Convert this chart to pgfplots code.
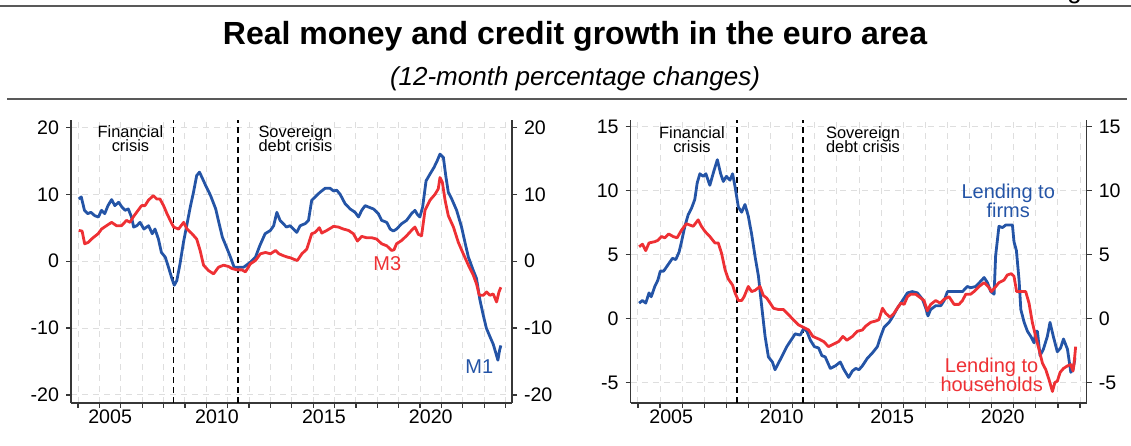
\documentclass[border=0pt]{standalone}
\usepackage{pgfplots}
\pgfplotsset{compat=1.18}
\usepackage{fontspec}
\setmainfont{Liberation Sans}
\definecolor{ecbblue}{RGB}{36,84,166}
\definecolor{ecbred}{RGB}{238,48,52}
\definecolor{axisgray}{RGB}{55,55,55}
\pgfplotsset{
  panelbase/.style={
    scale only axis, height=141.5pt,
    xmin=2003.67, xmax=2024.3,
    axis line style={axisgray, line width=0.6pt},
    tick style={axisgray, line width=0.6pt},
    tick align=outside, major tick length=2.5pt,
    ticklabel style={font=\fontsize{9.8}{11}\selectfont, text=black},
    /pgf/number format/assume math mode=true,
    clip=false,
  },
  panel/.style={
    panelbase,
    axis x line*=bottom, axis y line*=left,
    xtick={2004,...,2024}, xticklabels={},
    extra x ticks={2005.5,2010.5,2015.5,2020.5},
    extra x tick labels={2005,2010,2015,2020},
    extra x tick style={major tick length=0pt, grid=none},
    grid=major, grid style={black!13, line width=0.5pt, dash pattern=on 3pt off 2.5pt},
  },
  rightlab/.style={
    panelbase,
    axis x line=none, axis y line*=right,
  },
  crisis/.style={black, line width=0.85pt, dash pattern=on 3pt off 2pt},
  series/.style={line width=1.4pt, line join=round},
}
\newcommand{\annfont}{\fontsize{8.2}{6.9}\selectfont\lineskiplimit=-10pt}
\newcommand{\labfont}{\fontsize{10}{9.4}\selectfont\lineskiplimit=-10pt}
\begin{document}
\begin{tikzpicture}
\useasboundingbox (0,0) rectangle (565.5pt,222.5pt);
% header
\draw[line width=0.7pt, black!65] (0,219.5pt) -- (565.5pt,219.5pt);
\node[font=\fontsize{13}{15}\selectfont, anchor=base, inner sep=0pt] at (537.3pt,223.2pt) {g};
\node[font=\fontsize{16}{19}\selectfont\bfseries, anchor=base, inner sep=0pt] at (287.5pt,200pt) {Real money and credit growth in the euro area};
\node[font=\fontsize{13}{15}\selectfont\itshape, anchor=base, inner sep=0pt] at (287.5pt,179.5pt) {(12-month percentage changes)};
\draw[line width=0.7pt, black!65] (3.5pt,173pt) -- (563.5pt,173pt);

% ---------------- left panel ----------------
\begin{axis}[panel, width=220.5pt, at={(35.5pt,21pt)}, anchor=south west,
  ymin=-21.2, ymax=21.1, ytick={-20,-10,0,10,20}]
\addplot[crisis] coordinates {(2008.47,-21.2) (2008.47,21.1)};
\addplot[crisis] coordinates {(2011.47,-21.2) (2011.47,21.1)};
% M1
\addplot[series, ecbblue] coordinates {
(2004.03,9.3)(2004.15,9.6)(2004.3,7.6)(2004.45,7.1)(2004.6,7.3)(2004.78,6.8)(2004.95,6.6)(2005.1,7.6)(2005.25,7.1)(2005.4,8.3)(2005.57,9.2)(2005.72,8.3)(2005.9,8.8)(2006.05,8.1)(2006.2,7.6)(2006.35,7.8)(2006.5,6.6)(2006.6,5.1)(2006.75,5.3)(2006.9,5.8)(2007.08,4.8)(2007.3,5.3)(2007.47,4.1)(2007.6,4.8)(2007.76,3.3)(2007.9,1.3)(2008.08,0.6)(2008.23,-0.9)(2008.39,-2.6)(2008.5,-3.6)(2008.62,-2.9)(2008.77,-0.4)(2008.93,2.8)(2009.1,5.6)(2009.25,8.1)(2009.4,10.3)(2009.55,12.8)(2009.68,13.3)(2009.8,12.5)(2009.97,11.3)(2010.2,9.8)(2010.44,7.8)(2010.6,5.6)(2010.75,3.6)(2010.98,1.8)(2011.13,0.6)(2011.3,-0.9)(2011.5,-0.9)(2011.75,-0.9)(2012.08,-0.1)(2012.3,0.6)(2012.5,2.3)(2012.75,4.1)(2013.0,4.6)(2013.15,5.3)(2013.3,7.3)(2013.45,6.1)(2013.6,5.6)(2013.75,5.1)(2013.92,5.3)(2014.08,4.8)(2014.23,4.3)(2014.39,5.3)(2014.62,5.6)(2014.78,6.1)(2014.93,9.1)(2015.09,9.6)(2015.32,10.3)(2015.56,10.9)(2015.79,10.9)(2015.95,10.5)(2016.1,10.6)(2016.26,10.0)(2016.49,8.6)(2016.73,7.8)(2016.96,7.3)(2017.12,6.6)(2017.27,7.6)(2017.43,8.3)(2017.58,8.1)(2017.82,7.8)(2018.05,7.1)(2018.2,6.1)(2018.44,5.8)(2018.6,4.8)(2018.75,4.5)(2018.9,4.8)(2019.14,5.6)(2019.37,6.1)(2019.6,7.1)(2019.76,7.6)(2019.87,7.0)(2019.99,6.6)(2020.12,8.1)(2020.28,12.0)(2020.46,13.0)(2020.65,14.0)(2020.8,15.0)(2020.93,16.0)(2021.09,15.5)(2021.2,12.8)(2021.32,10.3)(2021.48,9.3)(2021.71,7.6)(2021.94,5.1)(2022.1,2.8)(2022.26,0.6)(2022.49,-1.4)(2022.64,-2.6)(2022.8,-5.8)(2022.95,-8.0)(2023.1,-10.0)(2023.27,-11.3)(2023.42,-12.4)(2023.55,-13.8)(2023.64,-14.8)(2023.72,-13.3)(2023.78,-12.6)
};
% M3
\addplot[series, ecbred] coordinates {
(2004.03,4.6)(2004.19,4.5)(2004.31,2.6)(2004.47,2.8)(2004.63,3.3)(2004.78,3.7)(2004.94,4.1)(2005.1,4.8)(2005.33,5.3)(2005.57,5.8)(2005.8,5.3)(2006.03,5.3)(2006.27,6.1)(2006.43,5.8)(2006.58,6.6)(2006.74,7.3)(2006.97,8.3)(2007.13,8.3)(2007.29,9.1)(2007.52,9.8)(2007.68,9.3)(2007.83,9.3)(2008.0,8.3)(2008.16,7.1)(2008.31,6.1)(2008.47,5.1)(2008.7,4.8)(2008.94,5.8)(2009.1,4.8)(2009.33,4.1)(2009.55,3.3)(2009.71,1.6)(2009.87,-0.6)(2010.1,-1.4)(2010.34,-1.9)(2010.57,-0.9)(2010.81,-0.6)(2011.04,-0.8)(2011.2,-1.1)(2011.43,-1.3)(2011.67,-1.3)(2011.83,-1.6)(2012.06,-0.4)(2012.3,0.1)(2012.53,1.1)(2012.77,1.3)(2013.0,1.1)(2013.24,1.6)(2013.4,1.1)(2013.62,0.8)(2013.8,0.6)(2013.94,0.5)(2014.08,0.3)(2014.26,0.1)(2014.47,1.1)(2014.7,1.8)(2014.93,4.1)(2015.09,4.3)(2015.29,5.0)(2015.4,4.2)(2015.64,4.6)(2015.95,5.2)(2016.18,5.1)(2016.41,4.8)(2016.65,4.6)(2016.88,4.1)(2017.07,3.0)(2017.27,3.7)(2017.5,3.5)(2017.74,3.5)(2017.97,3.3)(2018.2,2.6)(2018.44,2.3)(2018.67,1.6)(2018.78,1.7)(2018.9,2.6)(2019.14,3.1)(2019.37,3.8)(2019.6,4.6)(2019.76,5.1)(2019.92,4.0)(2020.07,3.8)(2020.23,7.6)(2020.46,9.1)(2020.7,10.0)(2020.85,10.8)(2020.93,12.5)(2021.04,11.8)(2021.17,9.1)(2021.32,6.8)(2021.56,5.1)(2021.79,2.8)(2022.02,1.1)(2022.26,-0.6)(2022.49,-2.1)(2022.64,-3.4)(2022.77,-5.1)(2022.96,-5.1)(2023.11,-4.6)(2023.27,-5.1)(2023.42,-4.9)(2023.58,-6.1)(2023.69,-4.6)(2023.78,-3.9)
};
\node[font=\annfont, align=center, anchor=north, inner sep=0pt] at (2006.45,20.3) {Financial\\crisis};
\node[font=\annfont, align=center, anchor=north, inner sep=0pt] at (2014.17,20.3) {Sovereign\\debt crisis};
\node[font=\labfont, text=ecbred, inner sep=0pt] at (2018.47,-0.3) {M3};
\node[font=\labfont, text=ecbblue, inner sep=0pt] at (2022.77,-15.8) {M1};
\end{axis}
\begin{axis}[rightlab, width=220.5pt, at={(35.5pt,21pt)}, anchor=south west,
  ymin=-21.2, ymax=21.1, ytick={-20,-10,0,10,20}]
\end{axis}

% ---------------- right panel ----------------
\begin{axis}[panel, width=228pt, at={(315.35pt,21pt)}, anchor=south west,
  ymin=-6.6, ymax=15.5, ytick={-5,0,5,10,15}]
\addplot[crisis] coordinates {(2008.47,-6.6) (2008.47,15.5)};
\addplot[crisis] coordinates {(2011.47,-6.6) (2011.47,15.5)};
% lending to firms
\addplot[series, ecbblue] coordinates {
(2004.05,1.2)(2004.2,1.4)(2004.35,1.2)(2004.5,2.0)(2004.6,1.7)(2004.76,2.5)(2004.9,3.0)(2005.01,3.7)(2005.16,3.7)(2005.36,4.2)(2005.56,4.7)(2005.71,4.6)(2005.86,5.2)(2005.97,6.0)(2006.12,7.2)(2006.27,8.1)(2006.42,8.6)(2006.57,9.3)(2006.68,10.6)(2006.8,11.3)(2006.95,11.1)(2007.07,11.3)(2007.25,10.4)(2007.43,11.5)(2007.59,12.4)(2007.74,11.3)(2007.86,10.7)(2008.0,11.1)(2008.16,10.8)(2008.28,11.3)(2008.39,10.3)(2008.54,8.7)(2008.69,8.3)(2008.84,8.9)(2008.99,8.0)(2009.14,6.6)(2009.3,4.8)(2009.45,3.3)(2009.6,0.9)(2009.75,-1.4)(2009.9,-3.0)(2010.08,-3.4)(2010.2,-4.0)(2010.35,-3.5)(2010.5,-3.0)(2010.73,-2.2)(2010.96,-1.6)(2011.11,-1.2)(2011.34,-1.3)(2011.49,-0.8)(2011.64,-1.0)(2011.8,-1.7)(2011.98,-2.2)(2012.17,-2.3)(2012.32,-2.9)(2012.47,-3.0)(2012.7,-3.9)(2012.93,-3.7)(2013.15,-3.4)(2013.32,-4.0)(2013.53,-4.6)(2013.7,-4.1)(2013.85,-3.9)(2014.0,-4.0)(2014.15,-3.7)(2014.38,-3.1)(2014.6,-2.7)(2014.83,-2.2)(2014.98,-1.4)(2015.13,-0.7)(2015.36,-0.3)(2015.51,0.1)(2015.73,0.8)(2015.89,1.2)(2016.04,1.6)(2016.19,2.0)(2016.41,2.1)(2016.64,2.0)(2016.87,1.5)(2017.02,0.8)(2017.12,0.2)(2017.24,0.7)(2017.47,1.0)(2017.7,1.0)(2017.85,1.4)(2018.0,2.1)(2018.22,2.1)(2018.45,2.1)(2018.68,2.1)(2018.9,2.5)(2019.05,2.4)(2019.28,2.5)(2019.5,2.9)(2019.66,3.2)(2019.81,2.8)(2019.96,2.1)(2020.11,1.9)(2020.18,4.9)(2020.33,7.2)(2020.49,7.1)(2020.64,7.3)(2020.79,7.3)(2020.94,7.3)(2021.01,6.0)(2021.12,5.3)(2021.24,3.0)(2021.32,0.7)(2021.47,-0.3)(2021.62,-1.0)(2021.77,-1.4)(2021.92,-1.9)(2022.0,-1.0)(2022.07,-1.0)(2022.19,-2.9)(2022.34,-2.4)(2022.52,-1.4)(2022.64,-0.3)(2022.79,-1.4)(2022.97,-2.6)(2023.12,-2.3)(2023.25,-1.6)(2023.43,-2.4)(2023.58,-4.2)(2023.68,-4.0)(2023.77,-3.1)
};
% lending to households
\addplot[series, ecbred] coordinates {
(2004.05,5.6)(2004.2,5.8)(2004.35,5.3)(2004.5,5.9)(2004.76,6.0)(2004.9,6.1)(2005.06,6.4)(2005.21,6.3)(2005.39,6.6)(2005.59,6.4)(2005.77,6.3)(2005.97,6.9)(2006.19,7.4)(2006.34,7.3)(2006.5,7.2)(2006.72,7.7)(2006.87,7.2)(2007.03,6.8)(2007.25,6.4)(2007.48,5.9)(2007.63,5.9)(2007.78,5.1)(2007.94,3.8)(2008.08,3.1)(2008.28,2.6)(2008.39,2.0)(2008.54,1.4)(2008.69,1.4)(2008.8,1.7)(2008.99,2.5)(2009.14,2.1)(2009.3,2.2)(2009.52,2.5)(2009.67,1.8)(2009.82,1.6)(2009.98,1.2)(2010.13,0.8)(2010.35,0.7)(2010.58,0.7)(2010.81,0.3)(2011.03,-0.1)(2011.26,-0.5)(2011.49,-0.7)(2011.72,-0.9)(2011.91,-1.4)(2012.17,-1.6)(2012.4,-1.8)(2012.62,-2.2)(2012.85,-2.0)(2013.08,-1.8)(2013.27,-1.4)(2013.45,-1.7)(2013.7,-1.4)(2013.92,-1.0)(2014.15,-0.9)(2014.3,-0.6)(2014.53,-0.3)(2014.75,-0.2)(2014.9,-0.1)(2015.06,0.8)(2015.21,0.4)(2015.4,0.1)(2015.58,0.4)(2015.73,0.8)(2015.89,1.2)(2016.04,1.1)(2016.19,1.7)(2016.34,1.9)(2016.56,1.9)(2016.79,1.6)(2016.94,1.4)(2017.09,0.6)(2017.24,1.1)(2017.47,1.4)(2017.67,1.2)(2017.85,1.5)(2018.07,1.7)(2018.3,1.1)(2018.52,1.1)(2018.68,1.4)(2018.83,1.9)(2019.05,1.9)(2019.2,2.1)(2019.43,2.5)(2019.66,2.8)(2019.84,2.5)(2019.99,2.1)(2020.14,2.4)(2020.33,2.8)(2020.56,3.0)(2020.71,3.4)(2020.89,3.5)(2021.01,3.3)(2021.13,2.1)(2021.32,2.1)(2021.54,2.1)(2021.69,1.2)(2021.84,-0.3)(2021.99,-1.4)(2022.14,-2.4)(2022.3,-3.5)(2022.45,-4.0)(2022.6,-4.8)(2022.75,-5.7)(2022.86,-5.0)(2022.97,-4.9)(2023.1,-4.2)(2023.25,-3.9)(2023.43,-3.7)(2023.58,-3.6)(2023.68,-4.1)(2023.73,-3.5)(2023.8,-2.2)
};
\node[font=\annfont, align=center, anchor=north, inner sep=0pt] at (2006.44,15.0) {Financial\\crisis};
\node[font=\annfont, align=center, anchor=north, inner sep=0pt] at (2014.18,15.0) {Sovereign\\debt crisis};
\node[font=\labfont, text=ecbblue, align=center, inner sep=0pt] at (2020.75,9.2) {Lending to\\firms};
\node[font=\labfont, text=ecbred, align=center, inner sep=0pt] at (2020.0,-4.4) {Lending to\\households};
\end{axis}
\begin{axis}[rightlab, width=228pt, at={(315.35pt,21pt)}, anchor=south west,
  ymin=-6.6, ymax=15.5, ytick={-5,0,5,10,15}]
\end{axis}
\end{tikzpicture}
\end{document}
